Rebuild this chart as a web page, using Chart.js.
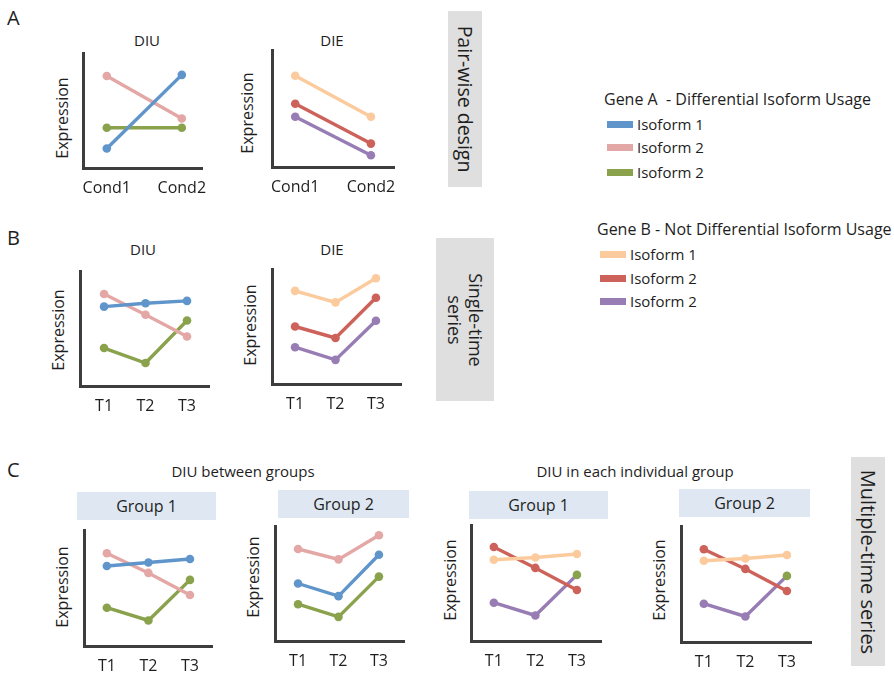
<!DOCTYPE html>
<html>
<head>
<meta charset="utf-8">
<script src="https://cdn.jsdelivr.net/npm/chart.js@4/dist/chart.umd.min.js"></script>
<style>
  html, body { margin: 0; padding: 0; background: #fff; }
  #page { position: relative; width: 894px; height: 674px; overflow: hidden;
          font-family: 'Open Sans', 'DejaVu Sans', sans-serif; color: #1e1e1e; }
  .t { position: absolute; white-space: nowrap; transform: translate(-50%, -50%); line-height: 1.2; }
  .ylab { position: absolute; white-space: nowrap; font-size: 16px; transform: translate(-50%, -50%) rotate(-90deg); }
  .letter { position: absolute; font-size: 20px; line-height: 1; }
  .side { position: absolute; background: #dfdfdf; }
  .side span { position: absolute; left: 50%; top: 50%; white-space: nowrap; line-height: 1.15;
               text-align: center; transform: translate(-50%, -50%) rotate(90deg); }
  .grp { position: absolute; background: #dfe8f2; font-size: 16px; display: flex; align-items: center; justify-content: center; }
  .leg { position: absolute; font-size: 16px; white-space: nowrap; line-height: 1; }
  .item { position: absolute; font-size: 15px; white-space: nowrap; display: flex; align-items: center; line-height: 1; }
  .item i { display: inline-block; width: 26px; height: 7px; margin-right: 4px; }
  canvas { position: absolute; }
</style>
</head>
<body>
<div id="page"></div>
<script>
// ---- categories ----
const condLabels = ['Cond1', 'Cond2'];
const timeLabels = ['T1', 'T2', 'T3'];
const isoNames = ['Isoform 1', 'Isoform 2', 'Isoform 2'];

// ---- A: pair-wise design ----
const aDiuIso1 = [1.7, 8.1];
const aDiuIso2 = [8.0, 4.3];
const aDiuIso3 = [3.5, 3.5];
const aDieIso1 = [7.8, 4.3];
const aDieIso2 = [5.4, 2.0];
const aDieIso3 = [4.3, 1.0];

// ---- B: single-time series ----
const bDiuIso1 = [6.9, 7.2, 7.4];
const bDiuIso2 = [8.0, 6.2, 4.3];
const bDiuIso3 = [3.3, 2.0, 5.7];
const bDieIso1 = [8.1, 7.1, 9.2];
const bDieIso2 = [5.0, 4.0, 7.5];
const bDieIso3 = [3.2, 2.1, 5.5];

// ---- C: multiple-time series ----
const cBetweenG1Iso1 = [6.9, 7.2, 7.5];
const cBetweenG1Iso2 = [8.0, 6.3, 4.4];
const cBetweenG1Iso3 = [3.3, 2.2, 5.7];
const cBetweenG2Iso1 = [5.0, 3.9, 7.5];
const cBetweenG2Iso2 = [8.0, 7.1, 9.2];
const cBetweenG2Iso3 = [3.2, 2.1, 5.6];
const cWithinG1Iso1 = [7.0, 7.2, 7.5];
const cWithinG1Iso2 = [8.1, 6.3, 4.4];
const cWithinG1Iso3 = [3.3, 2.2, 5.7];
const cWithinG2Iso1 = [7.0, 7.2, 7.5];
const cWithinG2Iso2 = [8.0, 6.3, 4.4];
const cWithinG2Iso3 = [3.3, 2.2, 5.7];

// ---- colours ----
const geneA = ['#5f95ca', '#e3a7a6', '#89a24b'];
const geneB = ['#fccb9d', '#cd625a', '#977db4'];
const AXIS = '#3d3d3d';
const INK = '#1e1e1e';

const page = document.getElementById('page');
function add(html) { page.insertAdjacentHTML('beforeend', html); }
function text(x, y, s, size) { add(`<div class="t" style="left:${x}px;top:${y}px;font-size:${size}px">${s}</div>`); }
function ylab(x, y) { add(`<div class="ylab" style="left:${x}px;top:${y}px">Expression</div>`); }

const PAD = 9;      // room around the plot area
const XAXIS_H = 32; // fixed height of the category axis
let nChart = 0;
function plot(box, labels, series, colors, xr, lastDot) {
  const w = box.R - box.L + 2 * PAD;
  const h = box.B - box.T + PAD + XAXIS_H + 4;
  const c = document.createElement('canvas');
  c.id = 'c' + (nChart++);
  c.width = w; c.height = h;
  c.style.left = (box.L - PAD) + 'px';
  c.style.top = (box.T - PAD) + 'px';
  page.appendChild(c);
  const datasets = series.map((vals, k) => {
    const pts = vals.map((v, i) => ({ x: i, y: v }));
    let pc = colors[k];
    if (lastDot && lastDot[k]) pc = vals.map((_, i) => i === vals.length - 1 ? lastDot[k] : colors[k]);
    return {
      data: pts, borderColor: colors[k], backgroundColor: colors[k],
      pointBackgroundColor: pc, pointBorderWidth: 0,
      borderWidth: 3.4, pointRadius: 4.3, tension: 0, clip: false
    };
  });
  new Chart(c, {
    type: 'line',
    data: { datasets },
    options: {
      responsive: false, animation: false, events: [],
      layout: { padding: { left: PAD, right: PAD, top: PAD, bottom: 4 } },
      plugins: { legend: { display: false }, tooltip: { enabled: false } },
      scales: {
        x: {
          type: 'linear', min: xr[0], max: xr[1],
          afterBuildTicks: s => { s.ticks = labels.map((_, i) => ({ value: i })); },
          afterFit: s => { s.height = XAXIS_H; },
          ticks: { callback: v => labels[v], color: INK, padding: 11, maxRotation: 0, autoSkip: false,
                   font: { family: "'Open Sans'", size: 16 } },
          grid: { display: false, drawTicks: false },
          border: { display: true, color: AXIS, width: 3 }
        },
        y: {
          min: 0, max: 10,
          ticks: { display: false },
          grid: { display: false, drawTicks: false },
          border: { display: true, color: AXIS, width: 3 }
        }
      }
    }
  });
}

// ---- Panel A ----
add('<div class="letter" style="left:7px;top:8px">A</div>');
text(147, 40, 'DIU', 15);
text(332, 40, 'DIE', 15);
ylab(62, 118); ylab(247, 113);
plot({ L: 80, T: 53, R: 209, B: 168 }, condLabels, [aDiuIso1, aDiuIso2, aDiuIso3], geneA, [-0.31, 1.28]);
plot({ L: 268, T: 50, R: 398, B: 167 }, condLabels, [aDieIso1, aDieIso2, aDieIso3], geneB, [-0.30, 1.31]);
add('<div class="side" style="left:448px;top:11px;width:34px;height:176px"><span style="font-size:19.5px">Pair-wise design</span></div>');

// ---- legends ----
function legend(x, y, title, colors, ys) {
  add(`<div class="leg" style="left:${x}px;top:${y - 8}px">${title}</div>`);
  isoNames.forEach((n, k) => {
    add(`<div class="item" style="left:${x + 3}px;top:${ys[k] - 8}px"><i style="background:${colors[k]}"></i>${n}</div>`);
  });
}
legend(604, 99, 'Gene A&nbsp; - Differential Isoform Usage', geneA, [125, 148, 173]);
legend(597, 229, 'Gene B - Not Differential Isoform Usage', geneB, [255, 279, 302]);

// ---- Panel B ----
add('<div class="letter" style="left:7px;top:228px">B</div>');
text(143, 249, 'DIU', 15);
text(332, 249, 'DIE', 15);
ylab(58, 330); ylab(250, 325);
plot({ L: 80, T: 271, R: 209, B: 386 }, timeLabels, [bDiuIso1, bDiuIso2, bDiuIso3], geneA, [-0.58, 2.53]);
plot({ L: 272, T: 269, R: 401, B: 384 }, timeLabels, [bDieIso1, bDieIso2, bDieIso3], geneB, [-0.57, 2.62]);
add('<div class="side" style="left:436px;top:238px;width:58px;height:163px"><span style="font-size:18px">Single-time<br>series</span></div>');

// ---- Panel C ----
add('<div class="letter" style="left:7px;top:460px">C</div>');
text(243, 471, 'DIU between groups', 15);
text(635, 471, 'DIU in each individual group', 15);
add('<div class="grp" style="left:77px;top:492px;width:139px;height:28px">Group 1</div>');
add('<div class="grp" style="left:278px;top:490px;width:131px;height:28px">Group 2</div>');
add('<div class="grp" style="left:469px;top:491px;width:139px;height:28px">Group 1</div>');
add('<div class="grp" style="left:679px;top:489px;width:131px;height:28px">Group 2</div>');
ylab(62, 587); ylab(253, 577); ylab(450, 580); ylab(659, 580);
plot({ L: 84, T: 530, R: 212, B: 646 }, timeLabels, [cBetweenG1Iso1, cBetweenG1Iso2, cBetweenG1Iso3], geneA, [-0.55, 2.53]);
plot({ L: 275, T: 526, R: 404, B: 641 }, timeLabels, [cBetweenG2Iso1, cBetweenG2Iso2, cBetweenG2Iso3], geneA, [-0.57, 2.62]);
plot({ L: 471, T: 525, R: 601, B: 641 }, timeLabels, [cWithinG1Iso1, cWithinG1Iso2, cWithinG1Iso3], geneB, [-0.55, 2.58], [null, null, geneA[2]]);
plot({ L: 681, T: 526, R: 811, B: 642 }, timeLabels, [cWithinG2Iso1, cWithinG2Iso2, cWithinG2Iso3], geneB, [-0.55, 2.58], [null, null, geneA[2]]);
add('<div class="side" style="left:851px;top:457px;width:34px;height:209px"><span style="font-size:20px">Multiple-time series</span></div>');
</script>
</body>
</html>
